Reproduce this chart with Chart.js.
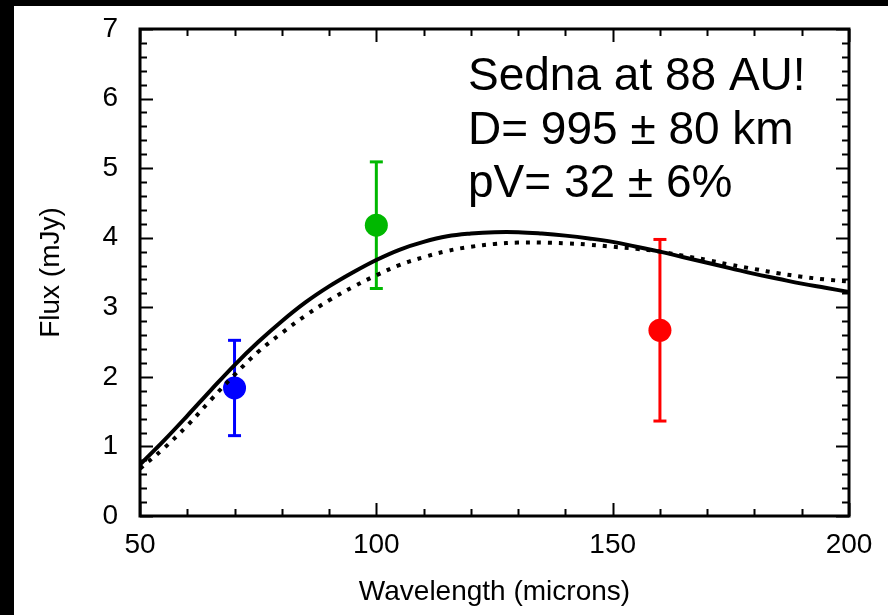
<!DOCTYPE html>
<html>
<head>
<meta charset="utf-8">
<script src="https://cdn.jsdelivr.net/npm/chart.js@4"></script>
<style>
  html, body { margin: 0; padding: 0; background: #000; }
  #wrap { position: absolute; left: 14px; top: 6px; width: 874px; height: 609px; background: #fff; }
</style>
</head>
<body>
<div id="wrap"><canvas id="sedna" width="874" height="609"></canvas></div>
<script>
// Model curves (thermal model fits), sampled every 5 microns
const waves = [50, 55, 60, 65, 70, 75, 80, 85, 90, 95, 100, 105, 110, 115, 120, 125,
  130, 135, 140, 145, 150, 155, 160, 165, 170, 175, 180, 185, 190, 195, 200];
const modelSolid = [0.74, 1.08, 1.44, 1.81, 2.17, 2.50, 2.80, 3.07, 3.30, 3.50, 3.68, 3.83,
  3.94, 4.02, 4.06, 4.08, 4.08, 4.06, 4.03, 3.99, 3.94, 3.87, 3.80, 3.72, 3.64, 3.56,
  3.48, 3.41, 3.34, 3.28, 3.22];
const modelDotted = [0.68, 0.97, 1.30, 1.67, 2.03, 2.36, 2.63, 2.88, 3.10, 3.29, 3.46, 3.61,
  3.72, 3.81, 3.87, 3.91, 3.93, 3.93, 3.92, 3.90, 3.87, 3.84, 3.80, 3.74, 3.68, 3.61,
  3.55, 3.49, 3.44, 3.40, 3.37];

// Observed points (Herschel PACS)
const obsWave = [70, 100, 160];
const obsFlux = [1.84, 4.18, 2.67];
const obsErr = [0.685, 0.91, 1.305];
const obsColors = ['#0000ff', '#00b800', '#ff0000'];

// Axes
const xTicks = [50, 100, 150, 200];
const yTicks = [0, 1, 2, 3, 4, 5, 6, 7];
const xMinorStep = 10;
const yMinorStep = 0.2;

const note = ['Sedna at 88 AU!', 'D= 995 \u00b1 80 km', 'pV= 32 \u00b1 6%'];

const FONT = '"Liberation Sans", Arial, Helvetica, sans-serif';

// frame, inward ticks on all sides, and the text block
const frameTicks = {
  id: 'frameTicks',
  afterDraw(chart) {
    const { ctx, chartArea: a, scales: { x, y } } = chart;
    ctx.save();
    ctx.strokeStyle = '#000';
    ctx.lineWidth = 2;
    ctx.beginPath();
    for (let v = x.min; v <= x.max; v += xMinorStep) {
      const px = Math.round(x.getPixelForValue(v)) + 0.5;
      const len = xTicks.includes(v) ? 13 : 7;
      ctx.moveTo(px, a.bottom); ctx.lineTo(px, a.bottom - len);
      ctx.moveTo(px, a.top); ctx.lineTo(px, a.top + len);
    }
    const n = Math.round((y.max - y.min) / yMinorStep);
    for (let i = 0; i <= n; i++) {
      const py = Math.round(y.getPixelForValue(y.min + i * yMinorStep)) + 0.5;
      const len = i % 5 === 0 ? 13 : 7;
      ctx.moveTo(a.left, py); ctx.lineTo(a.left + len, py);
      ctx.moveTo(a.right, py); ctx.lineTo(a.right - len, py);
    }
    ctx.stroke();
    ctx.lineWidth = 3;
    ctx.strokeRect(a.left, a.top, a.right - a.left, a.bottom - a.top);

    ctx.fillStyle = '#000';
    ctx.font = '46px ' + FONT;
    ctx.textAlign = 'left';
    ctx.textBaseline = 'alphabetic';
    note.forEach((t, i) => ctx.fillText(t, 454, 84 + i * 53.5));
    ctx.restore();
  }
};

// data sets: curves on top, then points, then error bars
const datasets = [
  {
    data: waves.map((w, i) => ({ x: w, y: modelSolid[i] })),
    showLine: true,
    borderColor: '#000',
    borderWidth: 4,
    pointRadius: 0,
    tension: 0.4
  },
  {
    data: waves.map((w, i) => ({ x: w, y: modelDotted[i] })),
    showLine: true,
    borderColor: '#000',
    borderWidth: 4,
    borderDash: [4, 7],
    borderCapStyle: 'butt',
    pointRadius: 0,
    tension: 0.4
  },
  {
    data: obsWave.map((w, i) => ({ x: w, y: obsFlux[i] })),
    pointRadius: 11.5,
    pointBackgroundColor: obsColors,
    pointBorderColor: obsColors,
    pointBorderWidth: 0
  }
];
obsWave.forEach((w, i) => {
  datasets.push({
    data: [{ x: w, y: obsFlux[i] - obsErr[i] }, { x: w, y: obsFlux[i] + obsErr[i] }],
    showLine: true,
    borderColor: obsColors[i],
    borderWidth: 3,
    pointStyle: 'line',
    pointRadius: 6.5,
    pointBorderColor: obsColors[i],
    pointBorderWidth: 3
  });
});

// fixed axis boxes so the plot frame lands where the original one is
const fixX = s => { s.height = 99; s.paddingLeft = 0; s.paddingRight = 0; };
const fixY = s => { s.width = 126; s.paddingTop = 0; s.paddingBottom = 0; };

const ctx = document.getElementById('sedna').getContext('2d');
const chart = new Chart(ctx, {
  type: 'scatter',
  data: { datasets: datasets },
  plugins: [frameTicks],
  options: {
    responsive: false,
    animation: false,
    layout: { padding: { top: 23, right: 39, left: 0, bottom: 0 } },
    plugins: { legend: { display: false }, tooltip: { enabled: false } },
    scales: {
      x: {
        type: 'linear',
        min: 50,
        max: 200,
        afterBuildTicks: s => { s.ticks = xTicks.map(v => ({ value: v })); },
        afterFit: fixX,
        grid: { display: false, drawTicks: false },
        border: { display: false },
        ticks: { color: '#000', font: { family: FONT, size: 28 }, padding: 12, maxRotation: 0 },
        title: {
          display: true,
          text: 'Wavelength (microns)',
          color: '#000',
          font: { family: FONT, size: 28 },
          padding: { top: 0, bottom: 6 }
        }
      },
      y: {
        type: 'linear',
        min: 0,
        max: 7,
        afterBuildTicks: s => { s.ticks = yTicks.map(v => ({ value: v })); },
        afterFit: fixY,
        grid: { display: false, drawTicks: false },
        border: { display: false },
        ticks: { color: '#000', font: { family: FONT, size: 28 }, padding: 22 },
        title: {
          display: true,
          text: 'Flux (mJy)',
          color: '#000',
          font: { family: FONT, size: 28 },
          padding: { top: 20, bottom: 0 }
        }
      }
    }
  }
});
</script>
</body>
</html>
